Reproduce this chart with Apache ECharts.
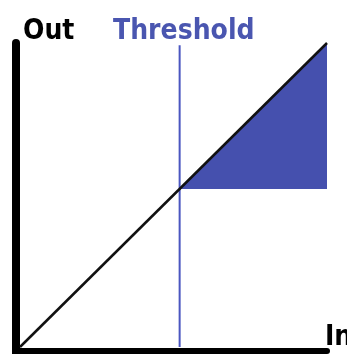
<!DOCTYPE html>
<html>
<head>
<meta charset="utf-8">
<script src="https://cdn.jsdelivr.net/npm/echarts@6/dist/echarts.min.js"></script>
<style>
html,body{margin:0;padding:0;background:#fff;}
#chart{width:347px;height:354px;}
</style>
</head>
<body>
<div id="chart"></div>
<script>
// Transfer curve data (normalised input -> output)
const inputLevels = [0, 1];
const outputLevels = [0, 1];
const threshold = 0.52;
const compressedIn = [0.52, 1];
const compressedOut = [0.52, 1];
const axisLabels = { x: 'In', y: 'Out', threshold: 'Threshold' };

const FONT = '"DejaVu Sans Condensed", "DejaVu Sans", sans-serif';
const BLUE = '#4550ae';

const chart = echarts.init(document.getElementById('chart'), null, { renderer: 'canvas' });
chart.setOption({
  animation: false,
  grid: { left: 16, right: 20, top: 43, bottom: 0 },
  xAxis: {
    type: 'value', min: -0.013, max: 1,
    axisLine: { onZero: false, lineStyle: { color: '#000', width: 6 } },
    offset: -3,
    axisTick: { show: false }, axisLabel: { show: false }, splitLine: { show: false }
  },
  yAxis: {
    type: 'value', min: -0.023, max: 1,
    axisLine: { onZero: false, lineStyle: { color: '#000', width: 8 } },
    axisTick: { show: false }, axisLabel: { show: false }, splitLine: { show: false }
  },
  series: [
    {
      type: 'line', symbol: 'none', z: 2,
      data: compressedIn.map((x, i) => [x, compressedOut[i]]),
      lineStyle: { width: 0 },
      areaStyle: { color: BLUE, opacity: 1, origin: threshold }
    },
    {
      type: 'line', symbol: 'none', z: 3,
      data: [[threshold, 0], [threshold, 0.993]],
      lineStyle: { color: '#4a56c0', width: 2 }
    },
    {
      type: 'line', symbol: 'none', z: 4,
      data: inputLevels.map((x, i) => [x, outputLevels[i]]),
      lineStyle: { color: '#111', width: 2.5 }
    }
  ],
  graphic: [
    { type: 'text', left: 23, top: 18, style: { text: axisLabels.y, font: 'bold 28px ' + FONT, fill: '#000' } },
    { type: 'text', left: 113, top: 18, style: { text: axisLabels.threshold, font: 'bold 28px ' + FONT, fill: '#4a56b0' } },
    { type: 'text', left: 325, top: 324, style: { text: axisLabels.x, font: 'bold 28px ' + FONT, fill: '#000' } }
  ]
});
</script>
</body>
</html>
